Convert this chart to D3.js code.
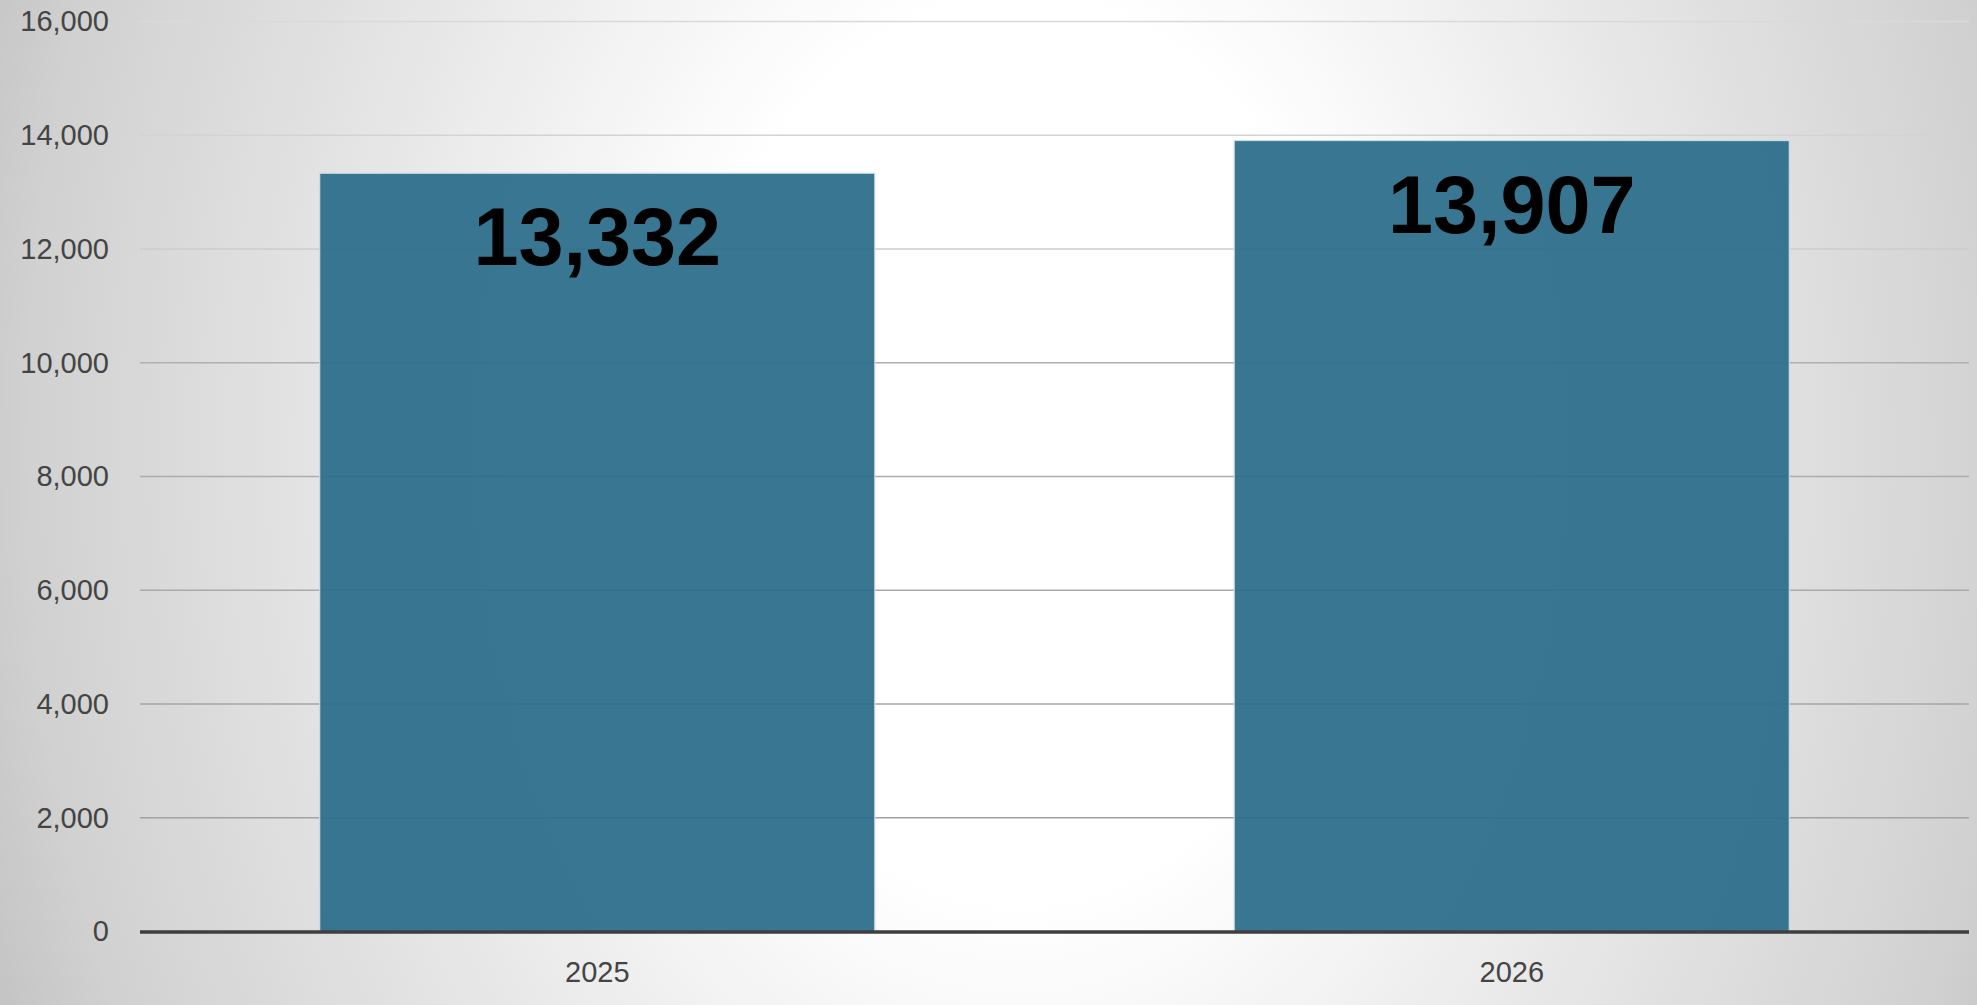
<!DOCTYPE html>
<html>
<head>
<meta charset="utf-8">
<script src="https://cdn.jsdelivr.net/npm/d3@7"></script>
<style>
  html, body { margin: 0; padding: 0; overflow: hidden; }
  svg { display: block; }
</style>
</head>
<body>
<svg id="chart" width="1977" height="1005"></svg>
<script>
// Yearly totals
const years = ["2025", "2026"];
const totals = [13332, 13907];
const yTicks = [0, 2000, 4000, 6000, 8000, 10000, 12000, 14000, 16000];

const W = 1977, H = 1005;
const margin = { left: 140, right: 8, top: 21.5, bottom: 73.5 };

const svg = d3.select("#chart");

// Soft elliptical backdrop, bright in the middle, grey toward the sides
const defs = svg.append("defs");
const bg = defs.append("radialGradient")
  .attr("id", "bgGrad")
  .attr("gradientUnits", "userSpaceOnUse")
  .attr("cx", 0).attr("cy", 0).attr("r", 1)
  .attr("gradientTransform", "translate(1020,450) scale(1100,1500)");
bg.append("stop").attr("offset", 0).attr("stop-color", "#ffffff");
bg.append("stop").attr("offset", 0.3).attr("stop-color", "#ffffff");
bg.append("stop").attr("offset", 0.6).attr("stop-color", "#e7e7e7");
bg.append("stop").attr("offset", 0.9).attr("stop-color", "#d1d1d1");
bg.append("stop").attr("offset", 1).attr("stop-color", "#c4c4c4");

svg.append("rect").attr("width", W).attr("height", H).attr("fill", "url(#bgGrad)");

const x = d3.scaleBand()
  .domain(years)
  .range([margin.left, W - margin.right])
  .paddingInner(0.393)
  .paddingOuter(0.1965);

const y = d3.scaleLinear()
  .domain([0, 16000])
  .range([H - margin.bottom, margin.top]);

// Gridline shade fades from mid grey near the base to pale grey at the top
const gridShade = d3.scaleLinear()
  .domain([2000, 10000, 12000, 16000])
  .range(["#a2a2a2", "#b0b0b0", "#cdcdcd", "#d9d9d9"]);

svg.append("g")
  .selectAll("line")
  .data(yTicks.filter(d => d > 0))
  .join("line")
  .attr("x1", margin.left)
  .attr("x2", W - margin.right)
  .attr("y1", d => y(d))
  .attr("y2", d => y(d))
  .attr("stroke", d => gridShade(d))
  .attr("stroke-width", 1.6);

// Y axis labels
const yAxis = d3.axisLeft(y)
  .tickValues(yTicks)
  .tickFormat(d3.format(","))
  .tickSize(0)
  .tickPadding(31);
const gy = svg.append("g")
  .attr("transform", `translate(${margin.left},0)`)
  .call(yAxis);
gy.select(".domain").remove();
gy.selectAll("text")
  .attr("font-family", "'Liberation Sans', Arial, sans-serif")
  .attr("font-size", 29)
  .attr("fill", "#444444");

// Bars
svg.append("g")
  .selectAll("rect")
  .data(years)
  .join("rect")
  .attr("x", d => x(d))
  .attr("width", x.bandwidth())
  .attr("y", (d, i) => y(totals[i]))
  .attr("height", (d, i) => y(0) - y(totals[i]))
  .attr("fill", "#2c6d8b")
  .attr("fill-opacity", 0.94)
  .attr("stroke", "#c9dde6")
  .attr("stroke-width", 1.2);

// Value labels
svg.append("g")
  .selectAll("text")
  .data(years)
  .join("text")
  .attr("x", d => x(d) + x.bandwidth() / 2)
  .attr("y", (d, i) => y(totals[i]) + 92)
  .attr("text-anchor", "middle")
  .attr("font-family", "'Liberation Sans', Arial, sans-serif")
  .attr("font-weight", "bold")
  .attr("font-size", 81)
  .attr("fill", "#000000")
  .text((d, i) => d3.format(",")(totals[i]));

// Baseline
svg.append("line")
  .attr("x1", margin.left)
  .attr("x2", W - margin.right)
  .attr("y1", y(0) + 0.5)
  .attr("y2", y(0) + 0.5)
  .attr("stroke", "#3e3e3e")
  .attr("stroke-width", 3.5);

// X axis labels
const xAxis = d3.axisBottom(x).tickSize(0).tickPadding(30);
const gx = svg.append("g")
  .attr("transform", `translate(0,${y(0)})`)
  .call(xAxis);
gx.select(".domain").remove();
gx.selectAll("text")
  .attr("font-family", "'Liberation Sans', Arial, sans-serif")
  .attr("font-size", 29)
  .attr("fill", "#444444");
</script>
</body>
</html>
